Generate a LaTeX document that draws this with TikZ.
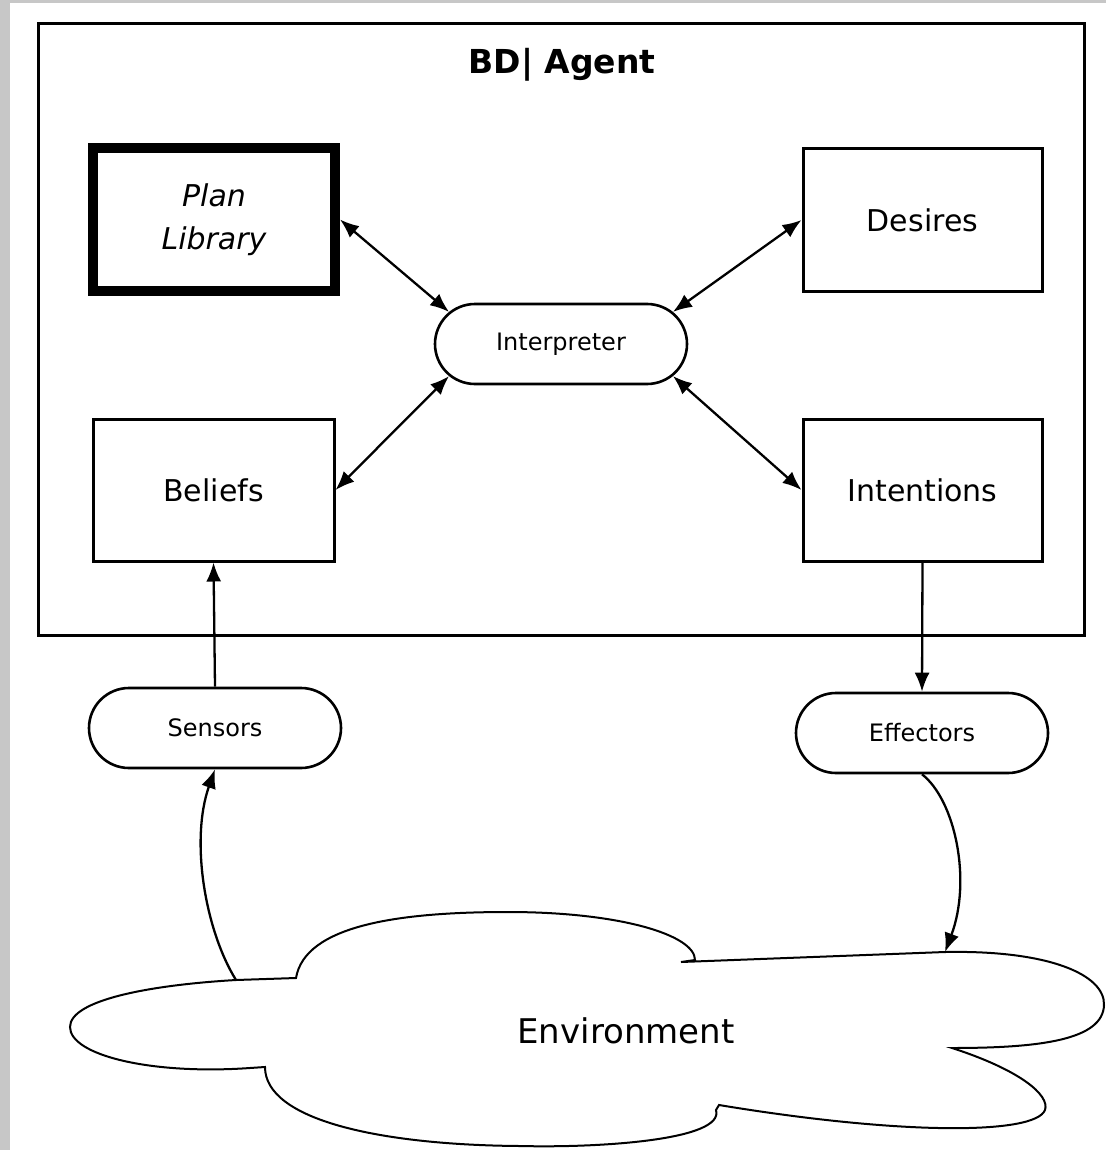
\documentclass[tikz,border=0pt]{standalone}
\usepackage{fontspec}
\setmainfont{DejaVu Sans}
\usetikzlibrary{shapes.misc,arrows.meta}
\tikzset{
  box/.style={draw, line width=3pt, minimum width=239pt, minimum height=142pt, inner sep=0pt, align=center, font=\fontsize{30}{38}\selectfont},
  pill/.style={draw, rounded rectangle, line width=2.6pt, minimum width=252pt, minimum height=80pt, inner sep=0pt, font=\fontsize{24}{28}\selectfont},
  conn/.style={line width=2.3pt},
  tip/.style={-{Latex[length=19pt,width=15pt]}},
  bitip/.style={{Latex[length=19pt,width=15pt]}-{Latex[length=19pt,width=15pt]}}
}
\begin{document}
\begin{tikzpicture}[x=1pt,y=-1pt]
\useasboundingbox (0,0) rectangle (1106,1150);
\fill[white] (0,0) rectangle (1106,1150);
\fill[black!22] (0,0) rectangle (1106,3);
\fill[black!22] (0,0) rectangle (10,1150);
% agent frame
\draw[line width=3pt] (38,24) rectangle (1084,635);
\node[font=\bfseries\fontsize{33}{38}\selectfont] (title) at (562,65) {BD| Agent};
% inner nodes
\node[box, line width=10pt, minimum width=242pt, minimum height=143pt, font=\itshape\fontsize{30}{43}\selectfont] (plan) at (214,219.5) {Plan\\Library};
\node[box] (desires) at (922.5,220) {Desires};
\node[box, minimum width=241pt] (beliefs) at (213.5,490) {Beliefs};
\node[box] (intentions) at (922.5,490) {Intentions};
\node[pill] (interp) at (561,344) {Interpreter};
% outside
\node[pill] (sensors) at (215,728) {Sensors};
\node[pill] (effectors) at (922,733) {Effectors};
% connectors inside
\draw[conn,bitip] (plan.east) -- (interp.164);
\draw[conn,bitip] (desires.west) -- (interp.16);
\draw[conn,bitip] (beliefs.east) -- (interp.196);
\draw[conn,bitip] (intentions.west) -- (interp.-16);
\draw[conn,tip] (sensors.north) -- (beliefs.south);
\draw[conn,tip] (intentions.south) -- (effectors.north);
% environment cloud
\draw[line width=2pt, fill=white]
  (236,980) -- (296,978)
  .. controls (305,925) and (400,912) .. (508,912)
  .. controls (620,912) and (695,935) .. (695,960)
  -- (681,962)
  -- (945,952)
  .. controls (1050,950) and (1105,975) .. (1104,1005)
  .. controls (1103,1040) and (1040,1048) .. (952,1048)
  .. controls (1020,1070) and (1050,1095) .. (1045,1110)
  .. controls (1035,1135) and (900,1135) .. (719,1105)
  -- (716,1110)
  .. controls (725,1140) and (600,1148) .. (520,1146)
  .. controls (380,1145) and (265,1120) .. (265,1067)
  -- (250,1068)
  .. controls (150,1075) and (70,1055) .. (70,1027)
  .. controls (70,1000) and (150,985) .. (236,980) -- cycle;
\coordinate (envleft) at (236,980);
\coordinate (envtop) at (945,952);
\node[font=\fontsize{34}{40}\selectfont] (env) at (626,1031) {Environment};
\draw[conn,tip] (envleft) .. controls (205,930) and (190,840) .. (sensors.south);
\draw[conn,tip] (effectors.south) .. controls (955,800) and (972,880) .. (envtop);
\end{tikzpicture}
\end{document}
